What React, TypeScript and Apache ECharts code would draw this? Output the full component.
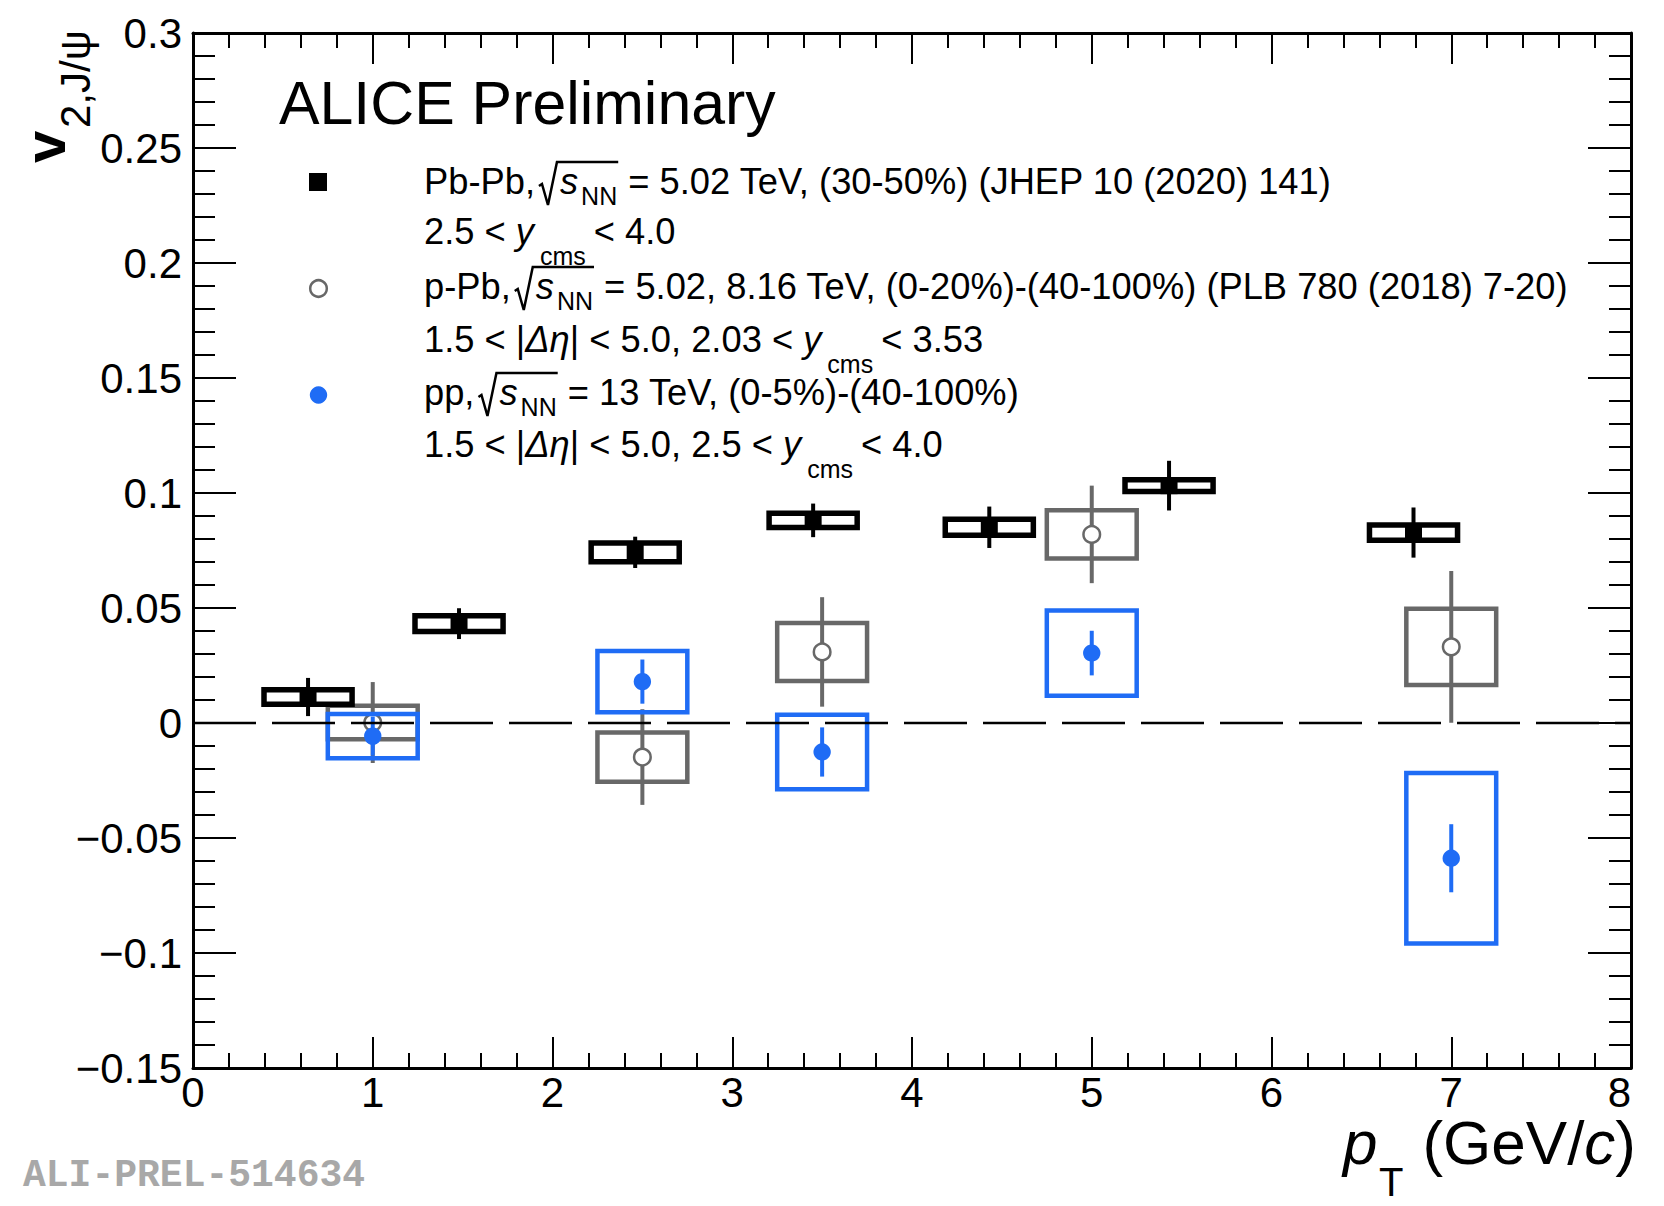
import React, { useEffect, useRef } from "react";
import * as echarts from "echarts";

// ---------------- data ----------------
// Pb-Pb, 30-50 %
const pbpbPt = [0.64, 1.48, 2.46, 3.45, 4.43, 5.43, 6.79];
const pbpbV2 = [0.0113, 0.0432, 0.0742, 0.0881, 0.0851, 0.1032, 0.0828];
const pbpbStat = [0.0083, 0.0067, 0.0068, 0.0073, 0.009, 0.0108, 0.0109];
const pbpbSyst = [0.0032, 0.0034, 0.0041, 0.0031, 0.0035, 0.0026, 0.0033];

// p-Pb, (0-20%)-(40-100%)
const ppbPt = [1.0, 2.5, 3.5, 5.0, 7.0];
const ppbV2 = [0.0002, -0.0148, 0.0309, 0.082, 0.0331];
const ppbStat = [0.0176, 0.0208, 0.0238, 0.0212, 0.033];
const ppbSyst = [0.0073, 0.0107, 0.0126, 0.0105, 0.0166];

// pp, (0-5%)-(40-100%)
const ppPt = [1.0, 2.5, 3.5, 5.0, 7.0];
const ppV2 = [-0.0057, 0.018, -0.0126, 0.0304, -0.0588];
const ppStat = [0.0085, 0.0096, 0.0107, 0.0097, 0.0148];
const ppSyst = [0.0096, 0.0133, 0.0162, 0.0185, 0.0371];

// axes
const X_MIN = 0;
const X_MAX = 8;
const X_STEP = 1;
const Y_MIN = -0.15;
const Y_MAX = 0.3;
const Y_STEP = 0.05;

// texts
const TITLE = "ALICE Preliminary";
const LEG_PBPB_A = "Pb-Pb,";
const LEG_PBPB_B = " = 5.02 TeV, (30-50%) (JHEP 10 (2020) 141)";
const LEG_PPB_A = "p-Pb,";
const LEG_PPB_B = " = 5.02, 8.16 TeV, (0-20%)-(40-100%) (PLB 780 (2018) 7-20)";
const LEG_PP_A = "pp,";
const LEG_PP_B = " = 13 TeV, (0-5%)-(40-100%)";
const WATERMARK = "ALI-PREL-514634";

// ---------------- style ----------------
const BLACK = "#000000";
const GRAY = "#686868";
const BLUE = "#1f6cf5";
const FONT = '"Liberation Sans", Arial, Helvetica, sans-serif';
const MONO = '"Liberation Mono", "DejaVu Sans Mono", monospace';

function txt(x: number, B: number, t: string, fs: number, o: any = {}) {
  return {
    type: "text",
    x,
    y: B - 0.3467 * fs,
    silent: true,
    z: 100,
    style: {
      text: t,
      x: 0,
      y: 0,
      fontSize: fs,
      fontFamily: o.family || FONT,
      fontStyle: o.it ? "italic" : "normal",
      fontWeight: o.bold ? "bold" : "normal",
      fill: o.color || BLACK,
      align: "left",
      verticalAlign: "middle",
    },
  };
}

// text rotated 90deg CCW, baseline at screen x = bx, starting at screen y = sy (reads upward)
function rtxt(bx: number, sy: number, t: string, fs: number, o: any = {}) {
  return {
    type: "text",
    x: bx,
    y: sy,
    rotation: Math.PI / 2,
    silent: true,
    z: 100,
    style: {
      text: t,
      x: 0,
      y: -0.3467 * fs,
      fontSize: fs,
      fontFamily: FONT,
      fontStyle: o.it ? "italic" : "normal",
      fontWeight: o.bold ? "bold" : "normal",
      fill: BLACK,
      align: "left",
      verticalAlign: "middle",
    },
  };
}

function makeSeries(
  name: string,
  pt: number[],
  v2: number[],
  stat: number[],
  syst: number[],
  color: string,
  marker: string,
  boxWidth: number,
  boxHalf: number
) {
  return {
    name,
    type: "custom",
    silent: true,
    data: pt.map((x, i) => [x, v2[i], stat[i], syst[i]]),
    encode: { x: 0, y: 1 },
    renderItem: (params: any, api: any) => {
      const x = api.value(0);
      const y = api.value(1);
      const st = api.value(2);
      const sy = api.value(3);
      const p0 = api.coord([x - boxHalf, y + sy]);
      const p1 = api.coord([x + boxHalf, y - sy]);
      const b0 = api.coord([x, y + st]);
      const b1 = api.coord([x, y - st]);
      const c = api.coord([x, y]);
      const children: any[] = [
        {
          type: "rect",
          shape: { x: p0[0], y: p0[1], width: p1[0] - p0[0], height: p1[1] - p0[1] },
          style: { fill: "none", stroke: color, lineWidth: boxWidth },
        },
        {
          type: "line",
          shape: { x1: b0[0], y1: b0[1], x2: b1[0], y2: b1[1] },
          style: { stroke: color, lineWidth: 4 },
        },
      ];
      if (marker === "square") {
        children.push({
          type: "rect",
          shape: { x: c[0] - 8.5, y: c[1] - 8.5, width: 17, height: 17 },
          style: { fill: color, stroke: "none" },
        });
      } else if (marker === "open") {
        children.push({
          type: "circle",
          shape: { cx: c[0], cy: c[1], r: 8.3 },
          style: { fill: "#ffffff", stroke: color, lineWidth: 2.5 },
        });
      } else {
        children.push({
          type: "circle",
          shape: { cx: c[0], cy: c[1], r: 8.7 },
          style: { fill: color, stroke: "none" },
        });
      }
      return { type: "group", children };
    },
  };
}

function yFmt(v: number) {
  if (Math.abs(v) < 1e-9) return "0";
  let s = Math.abs(v).toFixed(2);
  if (s.endsWith("0")) s = s.slice(0, -1);
  return (v < 0 ? "\u2212" : "") + s;
}

export default function App() {
  const ref = useRef<HTMLDivElement>(null);

  useEffect(() => {
    if (!ref.current) return;
    const chart = echarts.init(ref.current, undefined, { renderer: "svg" });

    const cv = document.createElement("canvas");
    const ctx = cv.getContext("2d") as CanvasRenderingContext2D;
    const W = (t: string, fs: number, it = false, family = FONT) => {
      ctx.font = `${it ? "italic " : ""}${fs}px ${family}`;
      return ctx.measureText(t).width;
    };

    const els: any[] = [];
    const LX = 424;
    const FS = 36.3;
    const SUB = 25;

    const sqrtBlock = (X: number, B: number) => {
      const sx = X + 25;
      const nnx = sx + W("s", FS, true) + 3;
      const E = nnx + W("NN", SUB) + 1;
      els.push({
        type: "polyline",
        silent: true,
        z: 100,
        shape: {
          points: [
            [X + 4, B - 8],
            [X + 7, B - 10],
            [X + 13, B + 11],
            [X + 22, B - 32],
            [E, B - 32],
          ],
        },
        style: { stroke: BLACK, lineWidth: 2.5, fill: "none" },
      });
      els.push(txt(sx, B, "s", FS, { it: true }));
      els.push(txt(nnx, B + 11, "NN", SUB));
      return E;
    };

    const energyLine = (B: number, pre: string, rest: string) => {
      els.push(txt(LX, B, pre, FS));
      const E = sqrtBlock(LX + W(pre, FS), B);
      els.push(txt(E, B, rest, FS));
    };

    const rapLine = (B: number, segs: [string, boolean][], tail: string) => {
      let x = LX;
      for (const [t, it] of segs) {
        els.push(txt(x, B, t, FS, { it }));
        x += W(t, FS, it);
      }
      x += 6;
      els.push(txt(x, B + 21, "cms", SUB));
      x += W("cms", SUB) + 8;
      els.push(txt(x, B, tail, FS));
    };

    // title
    els.push(txt(279, 124, TITLE, 60.8));

    // legend markers
    els.push({
      type: "rect",
      silent: true,
      z: 100,
      shape: { x: 309, y: 173, width: 18, height: 18 },
      style: { fill: BLACK },
    });
    els.push({
      type: "circle",
      silent: true,
      z: 100,
      shape: { cx: 318.5, cy: 288.5, r: 8.3 },
      style: { fill: "#fff", stroke: GRAY, lineWidth: 2.5 },
    });
    els.push({
      type: "circle",
      silent: true,
      z: 100,
      shape: { cx: 318.5, cy: 395, r: 8.7 },
      style: { fill: BLUE },
    });

    // legend texts
    energyLine(194, LEG_PBPB_A, LEG_PBPB_B);
    rapLine(244, [["2.5 < ", false], ["y", true]], "< 4.0");
    energyLine(299, LEG_PPB_A, LEG_PPB_B);
    rapLine(
      352,
      [
        ["1.5 < |", false],
        ["\u0394\u03b7", true],
        ["| < 5.0, 2.03 < ", false],
        ["y", true],
      ],
      "< 3.53"
    );
    energyLine(405, LEG_PP_A, LEG_PP_B);
    rapLine(
      457,
      [
        ["1.5 < |", false],
        ["\u0394\u03b7", true],
        ["| < 5.0, 2.5 < ", false],
        ["y", true],
      ],
      "< 4.0"
    );

    // x axis title
    const XB = 1164;
    const XF = 62;
    els.push(txt(1343, XB, "p", XF, { it: true }));
    els.push(txt(1379, 1196, "T", 40));
    const tailW = W("(GeV/", XF) + W("c", XF, true) + W(")", XF);
    let tx = 1636 - tailW;
    els.push(txt(tx, XB, "(GeV/", XF));
    tx += W("(GeV/", XF);
    els.push(txt(tx, XB, "c", XF, { it: true }));
    tx += W("c", XF, true);
    els.push(txt(tx, XB, ")", XF));

    // y axis title
    els.push(rtxt(65, 163, "v", 58, { bold: true }));
    els.push(rtxt(90, 128, "2,J/\u03c8", 42));

    // watermark
    els.push(txt(23, 1189, WATERMARK, 38, { bold: true, family: MONO, color: "#a8a8a8" }));

    const xAxisBase = {
      type: "value",
      min: X_MIN,
      max: X_MAX,
      interval: X_STEP,
      axisLine: { show: true, onZero: false, lineStyle: { color: BLACK, width: 3 } },
      axisTick: { show: true, inside: true, length: 31, lineStyle: { color: BLACK, width: 2 } },
      minorTick: { show: true, splitNumber: 5, length: 15, lineStyle: { color: BLACK, width: 2 } },
      splitLine: { show: false },
      minorSplitLine: { show: false },
    };
    const yAxisBase = {
      type: "value",
      min: Y_MIN,
      max: Y_MAX,
      interval: Y_STEP,
      axisLine: { show: true, onZero: false, lineStyle: { color: BLACK, width: 3 } },
      axisTick: { show: true, inside: true, length: 43, lineStyle: { color: BLACK, width: 2 } },
      minorTick: { show: true, splitNumber: 5, length: 22, lineStyle: { color: BLACK, width: 2 } },
      splitLine: { show: false },
      minorSplitLine: { show: false },
    };

    const option: any = {
      animation: false,
      backgroundColor: "#ffffff",
      grid: { left: 193, top: 33, right: 33, bottom: 138, containLabel: false },
      xAxis: [
        {
          ...xAxisBase,
          position: "bottom",
          axisLabel: {
            show: true,
            margin: 3,
            fontSize: 42,
            fontFamily: FONT,
            color: BLACK,
            alignMaxLabel: "right",
          },
        },
        { ...xAxisBase, position: "top", axisLabel: { show: false } },
      ],
      yAxis: [
        {
          ...yAxisBase,
          position: "left",
          axisLabel: {
            show: true,
            margin: 11,
            fontSize: 42,
            fontFamily: FONT,
            color: BLACK,
            formatter: yFmt,
          },
        },
        { ...yAxisBase, position: "right", axisLabel: { show: false } },
      ],
      series: [
        makeSeries("p-Pb", ppbPt, ppbV2, ppbStat, ppbSyst, GRAY, "open", 4.5, 0.25),
        {
          name: "zero",
          type: "line",
          silent: true,
          data: [
            [X_MIN, 0],
            [X_MAX, 0],
          ],
          symbol: "none",
          lineStyle: { color: BLACK, width: 2.5, type: [63, 16] },
        },
        makeSeries("pp", ppPt, ppV2, ppStat, ppSyst, BLUE, "dot", 4.5, 0.25),
        makeSeries("Pb-Pb", pbpbPt, pbpbV2, pbpbStat, pbpbSyst, BLACK, "square", 5.5, 0.245),
      ],
      graphic: { elements: els },
    };

    chart.setOption(option);
    return () => chart.dispose();
  }, []);

  return (
    <div
      ref={ref}
      style={{ position: "fixed", left: 0, top: 0, width: 1664, height: 1206, background: "#fff" }}
    />
  );
}
